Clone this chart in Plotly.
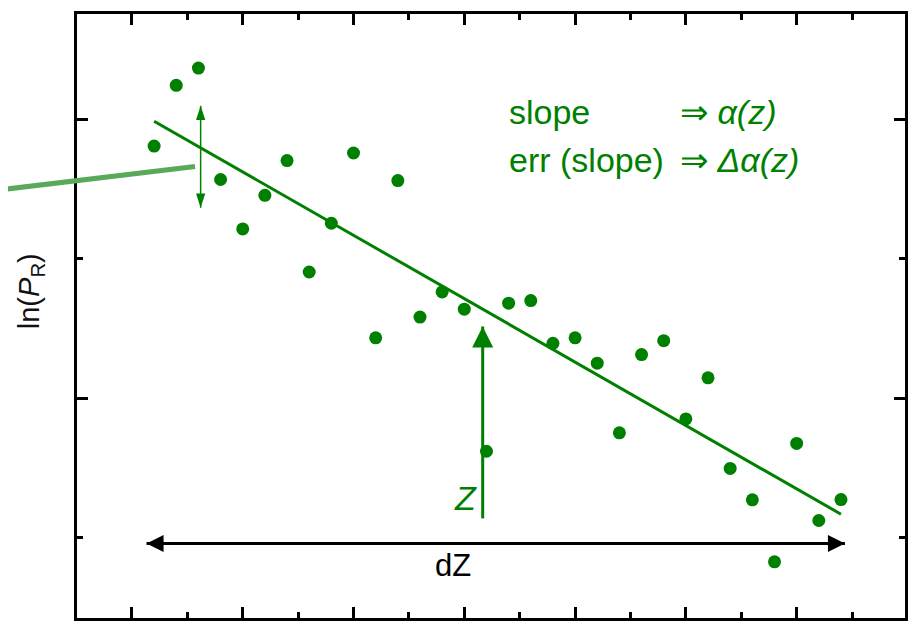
import numpy as np
import plotly.graph_objects as go

# ---- data ----
point_index = list(range(1, 33))
ln_pr = [2.809, 3.245, 3.369, 2.569, 2.214, 2.455, 2.705, 1.905, 2.255, 2.759,
         1.432, 2.561, 1.581, 1.762, 1.638, 0.618, 1.681, 1.700, 1.393, 1.432,
         1.250, 0.750, 1.312, 1.412, 0.850, 1.145, 0.495, 0.269, -0.176, 0.674,
         0.121, 0.271]

x_major_ticks = [0, 5, 10, 15, 20, 25, 30]
x_minor_ticks = [2.5, 7.5, 12.5, 17.5, 22.5, 27.5, 32.5]
y_major_ticks = [1, 3]
y_minor_ticks = [0, 2]

# arrow anchors (data units)
err_arrow_x = [3.1, 3.1]
err_arrow_y = [3.098, 2.366]
z_arrow_x = [15.83, 15.83]
z_arrow_y = [0.136, 1.514]
dz_arrow_x = [0.66, 32.18]
dz_arrow_y = [-0.045, -0.045]

# least-squares fit
slope, intercept = np.polyfit(point_index, ln_pr, 1)
fit_x = [point_index[0], point_index[-1]]
fit_y = [intercept + slope * v for v in fit_x]

GREEN = "#008000"
FONT = "Arial, Liberation Sans, sans-serif"

fig = go.Figure()

fig.add_trace(go.Scatter(x=fit_x, y=fit_y, mode="lines",
                         line=dict(color=GREEN, width=3), hoverinfo="skip"))
fig.add_trace(go.Scatter(x=point_index, y=ln_pr, mode="markers",
                         marker=dict(color=GREEN, size=13, opacity=1,
                                     line=dict(width=0))))
# thin double arrow (error of slope)
fig.add_trace(go.Scatter(x=err_arrow_x, y=err_arrow_y, mode="lines+markers",
                         line=dict(color=GREEN, width=1.5),
                         marker=dict(symbol="arrow", size=15, color=GREEN, opacity=1,
                                     angle=[0, 180], line=dict(width=0))))
# big green up arrow (position z): shaft + head
fig.add_trace(go.Scatter(x=z_arrow_x, y=z_arrow_y, mode="lines",
                         line=dict(color=GREEN, width=3)))
fig.add_trace(go.Scatter(x=z_arrow_x[1:], y=z_arrow_y[1:], mode="markers",
                         marker=dict(symbol="arrow-up", size=21, color=GREEN,
                                     opacity=1, line=dict(width=0))))
# black double arrow (dZ)
fig.add_trace(go.Scatter(x=dz_arrow_x, y=dz_arrow_y, mode="lines+markers",
                         line=dict(color="black", width=3),
                         marker=dict(symbol=["arrow-left", "arrow-right"], size=17,
                                     color="black", opacity=1, line=dict(width=0))))

txt_font = dict(family=FONT, size=34, color=GREEN)
annotations = [
    dict(x=16.92, y=3.05, xref="x", yref="y", text="slope", showarrow=False,
         xanchor="left", yanchor="middle", font=txt_font),
    dict(x=24.64, y=3.05, xref="x", yref="y", text="⇒ <i>α(z)</i>", showarrow=False,
         xanchor="left", yanchor="middle", font=txt_font),
    dict(x=16.92, y=2.707, xref="x", yref="y", text="err (slope)", showarrow=False,
         xanchor="left", yanchor="middle", font=txt_font),
    dict(x=24.64, y=2.707, xref="x", yref="y", text="⇒ <i>Δα(z)</i>", showarrow=False,
         xanchor="left", yanchor="middle", font=txt_font),
    dict(x=15.07, y=0.286, xref="x", yref="y", text="<i>Z</i>", showarrow=False,
         xanchor="center", yanchor="middle",
         font=dict(family=FONT, size=34, color=GREEN)),
    dict(x=14.49, y=-0.2, xref="x", yref="y", text="dZ", showarrow=False,
         xanchor="center", yanchor="middle",
         font=dict(family=FONT, size=31, color="black")),
    dict(x=-0.0556, y=0.541, xref="paper", yref="paper",
         text="ln(<i>P</i><sub>R</sub>)", showarrow=False, textangle=-90,
         xanchor="center", yanchor="middle",
         font=dict(family=FONT, size=29, color="#111111")),
]

shapes = [
    dict(type="line", xref="paper", yref="paper", x0=-0.093, y0=0.7089,
         x1=0.1425, y1=0.7474, line=dict(color="#5aa85a", width=5), layer="above"),
    dict(type="line", xref="paper", yref="paper", x0=1.012, y0=0.8995,
         x1=1.0205, y1=0.9061, line=dict(color="#a8d0a8", width=1.5)),
    dict(type="line", xref="paper", yref="paper", x0=1.012, y0=0.3904,
         x1=1.0205, y1=0.397, line=dict(color="#a8d0a8", width=1.5)),
]

axis_common = dict(showgrid=False, zeroline=False, showticklabels=False,
                   showline=True, linecolor="black", linewidth=3, mirror="ticks",
                   ticks="inside", ticklen=11, tickwidth=3, tickcolor="black")

fig.update_layout(
    width=914, height=620,
    margin=dict(l=69, r=17, t=3, b=10),
    paper_bgcolor="white", plot_bgcolor="white",
    showlegend=False,
    xaxis=dict(range=[-2.48, 34.89], tickvals=x_major_ticks,
               minor=dict(tickvals=x_minor_ticks, ticks="inside", ticklen=6,
                          tickwidth=3, tickcolor="black"),
               **axis_common),
    yaxis=dict(range=[-0.579, 3.757], tickvals=y_major_ticks,
               minor=dict(tickvals=y_minor_ticks, ticks="inside", ticklen=6,
                          tickwidth=3, tickcolor="black"),
               **axis_common),
    annotations=annotations,
    shapes=shapes,
)

fig.write_html("out.html")
